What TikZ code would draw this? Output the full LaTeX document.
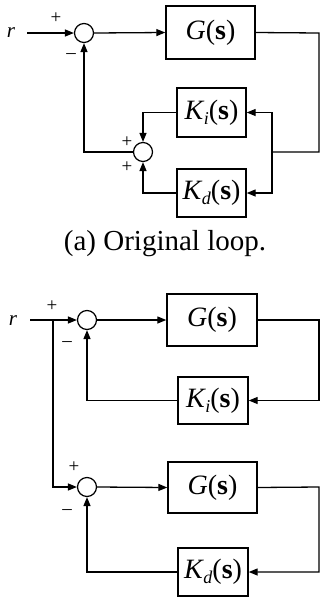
\documentclass[tikz,border=0pt]{standalone}
\usepackage{fontspec}
\setmainfont{Liberation Serif}
\usetikzlibrary{arrows.meta}

% transfer function labels
\newcommand{\tfG}{\textit{G}(\textbf{s})}
\newcommand{\tfK}[1]{\textit{K}\kern-0.5pt\raisebox{-5pt}{\fontsize{18}{18}\selectfont\textit{#1}}(\textbf{s})}

\begin{document}
\begin{tikzpicture}[x=1pt,y=-1pt,
  line width=1.3pt,
  >={Triangle[length=9pt,width=7pt]},
  block/.style={draw, line width=1.4pt, inner sep=0pt, font=\fontsize{28}{30}\selectfont},
  sumc/.style={draw, circle, line width=1.2pt, minimum size=19pt, inner sep=0pt},
  sgn/.style={inner sep=0pt, font=\fontsize{19}{19}\selectfont},
  sig/.style={inner sep=0pt, font=\fontsize{21}{21}\selectfont\itshape},
  captxt/.style={inner sep=0pt, font=\fontsize{29}{31}\selectfont}]
\useasboundingbox (0,0) rectangle (320,598);

% ---------- (a) original loop ----------
\node[sig] (r1) at (11,33) {r};
\coordinate (in1) at (27,33);
\node[sumc] (s1) at (84,33) {};
\node[block, minimum width=89pt, minimum height=53pt] (g1) at (210.5,32.5) {\tfG};
\node[block, minimum width=69pt, minimum height=49pt] (ki1) at (211.5,112.5) {\tfK{i}};
\node[block, minimum width=69pt, minimum height=48pt] (kd1) at (211.5,193) {\tfK{d}};
\node[sumc] (s2) at (143,152) {};
\coordinate (o1) at (319,33);
\coordinate (c1) at (319,152);
\coordinate (j1) at (272,152);

\node[sgn] (p1) at (56,18) {+};
\node[sgn] (m1) at (71,56) {\textendash};
\node[sgn] (p2) at (127,142) {+};
\node[sgn] (p3) at (127,167) {+};

\draw[->] (in1) -- (s1.west);
\draw[->] (s1.east) -- (g1.west);
\draw (g1.east) -- (o1) -- (c1) -- (j1);
\draw[->] (j1) |- (ki1.east);
\draw[->] (j1) |- (kd1.east);
\draw[->] (ki1.west) -| (s2.north);
\draw[->] (kd1.west) -| (s2.south);
\draw[->] (s2.west) -| (s1.south);

\node[captxt] (capa) at (165,244) {(a) Original loop.};

% ---------- split loop ----------
\node[sig] (r2) at (13,321) {r};
\coordinate (in2) at (30,320);
\coordinate (b1) at (53,320);
\coordinate (b2) at (53,487);
\node[sumc] (s3) at (87,320) {};
\node[block, minimum width=90pt, minimum height=52pt] (g2) at (212,320) {\tfG};
\node[block, minimum width=70pt, minimum height=47pt] (ki2) at (213,400.5) {\tfK{i}};
\coordinate (o2) at (319,320);

\node[sumc] (s4) at (87,487) {};
\node[block, minimum width=89pt, minimum height=51pt] (g3) at (212.5,487.5) {\tfG};
\node[block, minimum width=70pt, minimum height=48pt] (kd2) at (213,572) {\tfK{d}};
\coordinate (o3) at (319,487);

\node[sgn] (p4) at (52,306) {+};
\node[sgn] (m2) at (67,344) {\textendash};
\node[sgn] (p5) at (74,467) {+};
\node[sgn] (m3) at (67,512) {\textendash};

\draw[->] (in2) -- (s3.west);
\draw[->] (s3.east) -- (g2.west);
\draw[->] (g2.east) -- (o2) |- (ki2.east);
\draw[->] (ki2.west) -| (s3.south);

\draw[->] (b1) -- (b2) -- (s4.west);
\draw[->] (s4.east) -- (g3.west);
\draw[->] (g3.east) -- (o3) |- (kd2.east);
\draw[->] (kd2.west) -| (s4.south);
\end{tikzpicture}
\end{document}
